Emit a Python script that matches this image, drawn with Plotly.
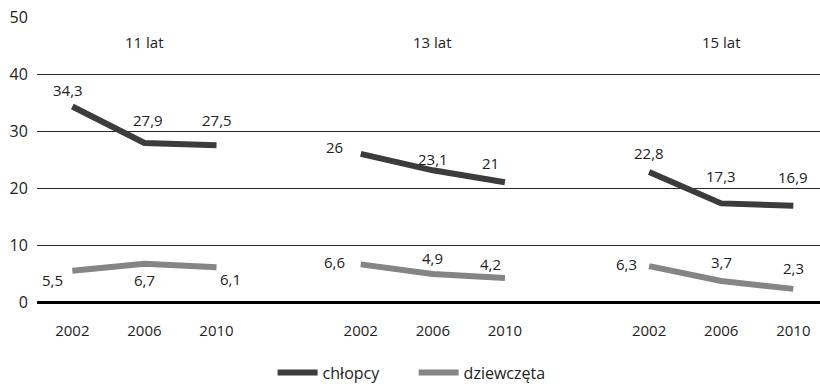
import plotly.graph_objects as go

groups = ["11 lat", "13 lat", "15 lat"]
years = ["2002", "2006", "2010"]
chlopcy = [[34.3, 27.9, 27.5], [26.0, 23.1, 21.0], [22.8, 17.3, 16.9]]
dziewczeta = [[5.5, 6.7, 6.1], [6.6, 4.9, 4.2], [6.3, 3.7, 2.3]]
series_names = ["chłopcy", "dziewczęta"]
y_ticks = [0, 10, 20, 30, 40, 50]

FONT = "Open Sans"
C_BOYS = "#3c3c3c"
C_GIRLS = "#858585"

# label offsets (px) per series / group / point
off_boys = [[(-4, 16), (4, 23), (0, 25)], [(-26, 7), (0, 11), (-14, 19)], [(0, 19), (0, 27), (0, 29)]]
off_girls = [[(-20, -9), (0, -16), (14, -12)], [(-26, 2), (0, 16), (-14, 14)], [(-23, 2), (0, 19), (0, 21)]]

def fmt(v):
    s = ("%.1f" % v)
    if s.endswith(".0"):
        s = s[:-2]
    return s.replace(".", ",")

fig = go.Figure()
ann = []
xpos_all = []
for gi, g in enumerate(groups):
    xs = [gi * 4 + k for k in range(len(years))]
    xpos_all += xs
    for si, (vals, col, offs) in enumerate([(chlopcy, C_BOYS, off_boys), (dziewczeta, C_GIRLS, off_girls)]):
        fig.add_trace(go.Scatter(
            x=xs, y=vals[gi], mode="lines",
            line=dict(color=col, width=6),
            name=series_names[si], legendgroup=series_names[si],
            showlegend=(gi == 0), hoverinfo="skip"))
        for k, v in enumerate(vals[gi]):
            dx, dy = offs[gi][k]
            ann.append(dict(x=xs[k], y=v, text=fmt(v), showarrow=False,
                            xshift=dx, yshift=dy, font=dict(size=15, color="#222", family=FONT)))
    ann.append(dict(x=gi * 4 + 1, y=45.6, text=g, showarrow=False,
                    font=dict(size=15, color="#222", family=FONT)))

fig.update_layout(
    width=820, height=384,
    margin=dict(l=37, r=0, t=17, b=82),
    paper_bgcolor="white", plot_bgcolor="white",
    font=dict(family=FONT, size=15, color="#222"),
    annotations=ann,
    showlegend=True,
    legend=dict(orientation="h", x=0.481, xanchor="center",
                yref="container", y=0.03, yanchor="middle",
                font=dict(size=16, family=FONT, color="#222"), itemwidth=40, tracegroupgap=0,
                entrywidth=86),
    xaxis=dict(range=[-0.49, 10.37], tickvals=xpos_all, ticktext=years * len(groups),
               showgrid=False, zeroline=False, showline=False,
               ticks="outside", ticklen=15, tickcolor="rgba(0,0,0,0)",
               tickfont=dict(size=15, family=FONT, color="#222")),
    yaxis=dict(range=[0, 50], tickvals=y_ticks, showgrid=True, gridcolor="#2a2a2a", gridwidth=1.2,
               zeroline=True, zerolinecolor="#000", zerolinewidth=2.5, showline=False,
               ticks="outside", ticklen=5, tickcolor="rgba(0,0,0,0)",
               tickfont=dict(size=16, family=FONT, color="#222")),
)

fig.write_html("out.html")
